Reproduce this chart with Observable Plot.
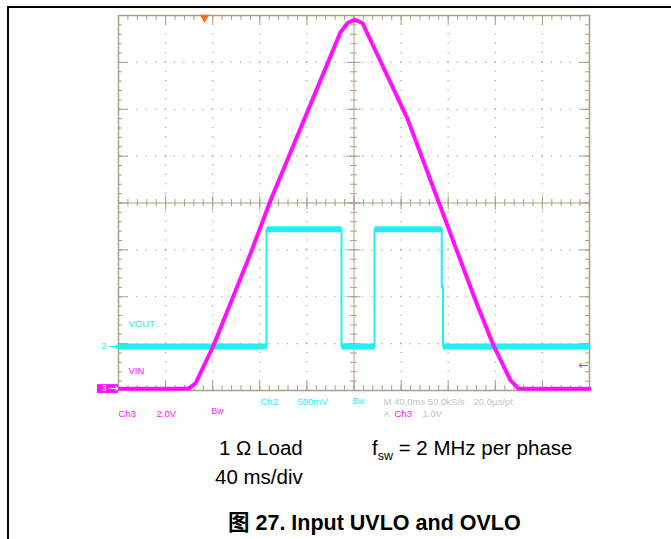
<!DOCTYPE html>
<html><head><meta charset="utf-8">
<script src="https://cdn.jsdelivr.net/npm/d3@7"></script>
<script src="https://cdn.jsdelivr.net/npm/@observablehq/plot@0.6"></script>
<style>
body{margin:0;background:#fff;width:671px;height:539px;position:relative;overflow:hidden;font-family:"Liberation Sans",Arial,"Noto Sans CJK SC",sans-serif}
#chart{position:absolute;left:0;top:0}
#box{position:absolute;left:7px;top:6px;width:700px;height:600px;border-top:2px solid #000;border-left:2px solid #000;pointer-events:none}
.cap{position:absolute;font-size:20.5px;line-height:1;color:#000;white-space:nowrap}
.sub{font-size:12.5px;position:relative;top:5px}
</style></head><body>
<div id="chart"></div>
<div id="box"></div>
<div class="cap" style="left:219px;top:438px">1 Ω Load</div>
<div class="cap" style="left:372px;top:438px">f<span class="sub">sw</span> = 2 MHz per phase</div>
<div class="cap" style="left:215px;top:467px">40 ms/div</div>
<div class="cap" style="left:228px;top:513px;font-weight:bold;font-size:21.5px">图 27. Input UVLO and OVLO</div>
<script>
// ---- data read from the scope capture ----
// Ch3 = VIN (2.0 V/div), Ch2 = VOUT (500 mV/div), time base 40 ms/div
const vinTime  = [0, 59.4, 65.4, 80.7, 112.1, 129.1, 188.5, 194.5, 200.4, 207.2, 245.4, 303.2, 318.5, 332.9, 339.7, 400];
const vinVolts = [0, 0, 0.22, 1.84, 5.76, 8.03, 15.2, 15.6, 15.74, 15.6, 11.52, 3.76, 1.84, 0.35, 0, 0];
const voutTime  = [0, 125.7, 125.7, 189.4, 189.4, 217.4, 217.4, 274.5, 274.5, 275.6, 275.6, 400];
const voutVolts = [0, 0, 1.25, 1.25, 0, 0, 1.25, 1.25, 0.63, 0.63, 0, 0];
const timePerDiv = 40;          // ms
const ch2VoltsPerDiv = 0.5;     // V
const ch3VoltsPerDiv = 2.0;     // V
const ch2Ground = 0.94;         // divisions above bottom
const ch3Ground = 0.04;
const triggerLevel = 1.0;       // V on Ch3
const triggerTime = 73;         // ms

const vin = vinTime.map((t, i) => ({t, v: vinVolts[i]}));
const vout = voutTime.map((t, i) => ({t, v: voutVolts[i]}));
const voutFlat = d3.pairs(vout).filter(([a, b]) => a.v === b.v && b.t > a.t);
const y2 = v => ch2Ground + v / ch2VoltsPerDiv;
const y3 = v => ch3Ground + v / ch3VoltsPerDiv;

const xMajor = d3.range(0, 10 * timePerDiv + 0.1, timePerDiv);
const xMinor = d3.range(0, 10 * timePerDiv + 0.1, timePerDiv / 5);
const yMajor = d3.range(0, 8.01, 1);
const yMinor = d3.range(0, 8.01, 0.2);
const xInner = xMajor.filter(d => d > 0 && d < 400 && d !== 200);
const yInner = yMajor.filter(d => d > 0 && d < 8 && d !== 4);

const gridC = "#aaa085", frameC = "#a89e82";
const cyan = "#1ef0f4", magenta = "#ff10ff", grey = "#c4c4c4", orange = "#ff6a1a";
const fs = 9.5;
const lab = (txt, opts) => Plot.text([txt], Object.assign({text: d => d, textAnchor: "start", fontSize: fs, fontFamily: "Liberation Sans, Arial, sans-serif"}, opts));
const arrowFont = "DejaVu Sans, sans-serif";

const chart = Plot.plot({
  width: 671, height: 420,
  marginLeft: 118, marginRight: 82, marginTop: 15, marginBottom: 30,
  x: {domain: [0, 400], axis: null},
  y: {domain: [0, 8], axis: null},
  style: {background: "transparent", overflow: "visible"},
  marks: [
    Plot.ruleX(xInner, {x: d => d, stroke: gridC, strokeWidth: 1.2, strokeDasharray: "1.2,8.175", strokeDashoffset: 0.6}),
    Plot.ruleY(yInner, {y: d => d, stroke: gridC, strokeWidth: 1.2, strokeDasharray: "1.2,8.22", strokeDashoffset: 0.6}),
    Plot.ruleX([200], {x: d => d, stroke: gridC, strokeWidth: 1}),
    Plot.ruleY([4], {y: d => d, stroke: gridC, strokeWidth: 1}),
    // centre crosshair ticks
    Plot.ruleY(yMinor, {y: d => d, x1: () => 200, x2: () => 200, insetLeft: -3.5, insetRight: -3.5, stroke: gridC}),
    Plot.ruleY(yMajor, {y: d => d, x1: () => 200, x2: () => 200, insetLeft: -7, insetRight: -7, stroke: gridC}),
    Plot.ruleX(xMinor, {x: d => d, y1: () => 4, y2: () => 4, insetTop: -3.5, insetBottom: -3.5, stroke: gridC}),
    Plot.ruleX(xMajor, {x: d => d, y1: () => 4, y2: () => 4, insetTop: -7, insetBottom: -7, stroke: gridC}),
    // edge ticks
    Plot.ruleY(yMinor, {y: d => d, x1: () => 0, x2: () => 0, insetRight: -4, stroke: gridC}),
    Plot.ruleY(yMajor, {y: d => d, x1: () => 0, x2: () => 0, insetRight: -9, stroke: gridC}),
    Plot.ruleY(yMinor, {y: d => d, x1: () => 400, x2: () => 400, insetLeft: -4, stroke: gridC}),
    Plot.ruleY(yMajor, {y: d => d, x1: () => 400, x2: () => 400, insetLeft: -9, stroke: gridC}),
    Plot.ruleX(xMinor, {x: d => d, y1: () => 8, y2: () => 8, insetBottom: -5, stroke: gridC}),
    Plot.ruleX(xMajor, {x: d => d, y1: () => 8, y2: () => 8, insetBottom: -9, stroke: gridC}),
    Plot.ruleX(xMinor, {x: d => d, y1: () => 0, y2: () => 0, insetTop: -5, stroke: gridC}),
    Plot.ruleX(xMajor, {x: d => d, y1: () => 0, y2: () => 0, insetTop: -9, stroke: gridC}),
    Plot.frame({stroke: frameC, strokeWidth: 1.5}),
    // traces
    Plot.line(vout, {x: "t", y: d => y2(d.v), stroke: cyan, strokeWidth: 2}),
    Plot.link(voutFlat, {x1: d => d[0].t, x2: d => d[1].t, y1: d => y2(d[0].v), y2: d => y2(d[1].v), stroke: cyan, strokeWidth: 6, strokeLinecap: "butt"}),
    Plot.line(vin, {x: "t", y: d => y3(d.v), stroke: magenta, strokeWidth: 4, strokeLinejoin: "round"}),
    // channel markers
    Plot.ruleY([ch3Ground], {y: d => d, x1: () => 0, x2: () => 0, insetLeft: -21, stroke: magenta, strokeWidth: 9}),
    lab("3", {x: () => 0, y: () => ch3Ground, dx: -12, textAnchor: "end", fill: "white", fontSize: 8.5}),
    lab("→", {x: () => 0, y: () => ch3Ground, dx: 0, textAnchor: "end", fill: "white", fontSize: 12, fontFamily: arrowFont}),
    lab("2", {x: () => 0, y: () => ch2Ground, dx: -12, textAnchor: "end", fill: cyan}),
    lab("→", {x: () => 0, y: () => ch2Ground, dx: 0, textAnchor: "end", fill: cyan, fontSize: 12, fontFamily: arrowFont}),
    lab("VOUT", {x: () => 0, y: () => ch2Ground + 0.47, dx: 10, fill: cyan}),
    lab("VIN", {x: () => 0, y: () => ch3Ground + 0.38, dx: 10, fill: magenta}),
    lab("←", {x: () => 400, y: () => y3(triggerLevel), dx: -1, textAnchor: "end", fill: magenta, fontSize: 12, fontFamily: arrowFont}),
    Plot.dot([triggerTime], {x: d => d, y: () => 8, dy: 2, symbol: "triangle", rotate: 180, r: 3.5, fill: orange}),
    // status lines
    lab("Ch3", {x: () => 0, y: () => 0, dy: 23, fill: magenta}),
    lab("2.0V", {x: () => 0, y: () => 0, dx: 38, dy: 23, fill: magenta}),
    lab("Bw", {x: () => 0, y: () => 0, dx: 93, dy: 21, fill: magenta, fontSize: 8.5}),
    lab("Ch2", {x: () => 0, y: () => 0, dx: 142, dy: 11, fill: cyan}),
    lab("500mV", {x: () => 0, y: () => 0, dx: 179, dy: 11, fill: cyan}),
    lab("Bw", {x: () => 0, y: () => 0, dx: 234, dy: 11, fill: cyan, fontSize: 8.5}),
    lab("M 40.0ms 50.0kS/s", {x: () => 0, y: () => 0, dx: 265, dy: 11, fill: grey}),
    lab("20.0µs/pt", {x: () => 0, y: () => 0, dx: 355, dy: 11, fill: grey}),
    lab("A", {x: () => 0, y: () => 0, dx: 265, dy: 23, fill: grey}),
    lab("Ch3", {x: () => 0, y: () => 0, dx: 276, dy: 23, fill: magenta}),
    lab("⁄", {x: () => 0, y: () => 0, dx: 293, dy: 23, fill: grey}),
    lab("1.0V", {x: () => 0, y: () => 0, dx: 304, dy: 23, fill: grey})
  ]
});
document.getElementById("chart").appendChild(chart);
</script>
</body></html>
